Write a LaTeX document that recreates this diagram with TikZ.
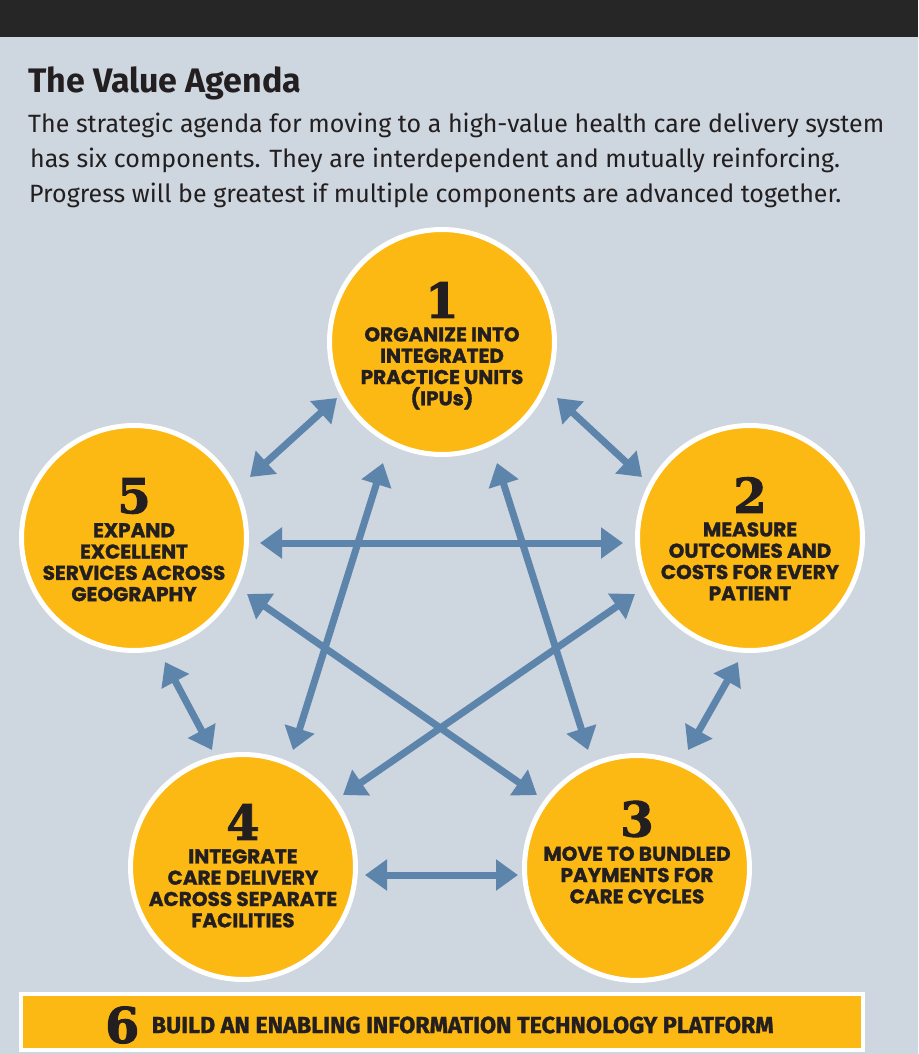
\documentclass[tikz,border=0pt]{standalone}
\usepackage{fontspec}
\usepackage{xcolor}
\setmainfont{Fira Sans}
\newfontfamily\bodyfont{Fira Sans}
\newfontfamily\barfont{Fira Sans}[BoldFeatures={FakeBold=1.2}]
\newfontfamily\capfont{Poppins}[BoldFeatures={FakeBold=1.4}]
\newfontfamily\digitfont{DejaVu Serif}[BoldFeatures={FakeBold=2}]
\usetikzlibrary{positioning, arrows.meta}

\definecolor{paneblue}{RGB}{206,214,223}
\definecolor{barblack}{RGB}{38,38,38}
\definecolor{agendayellow}{RGB}{252,184,19}
\definecolor{linkblue}{RGB}{93,133,172}
\definecolor{inkdark}{RGB}{35,31,32}

\begin{document}
\begin{tikzpicture}[
        x=1pt, y=-1pt,
        component/.style={circle, fill=agendayellow, draw=white, line width=5pt, minimum size=225pt, inner sep=0pt},
        num/.style={font=\digitfont\bfseries\fontsize{48}{48}\selectfont, text=inkdark, inner sep=0pt},
        caption/.style={font=\capfont\bfseries\fontsize{20}{21.3}\selectfont, text=inkdark, align=center, inner sep=0pt},
        heading/.style={font=\bodyfont\bfseries\fontsize{34}{34}\selectfont, text=inkdark, inner sep=0pt, anchor=base west},
        intro/.style={font=\bodyfont\fontsize{25}{35}\selectfont, text=inkdark, inner sep=0pt, anchor=base west},
        platform/.style={rectangle, fill=agendayellow, draw=white, line width=4pt, minimum width=842pt, minimum height=56pt, inner sep=0pt},
        link/.style={draw=linkblue, line width=7pt, {Triangle[length=22pt,width=30pt]}-{Triangle[length=22pt,width=30pt]}},
    ]

    \useasboundingbox (0,0) rectangle (918,1054);

    % === BACKGROUND ===
    \fill[paneblue] (0,0) rectangle (918,1054);
    \fill[barblack] (0,0) rectangle (918,37);

    % === HEADER ===
    \node[heading] (title) at (28,93) {The Value Agenda};
    \node[intro] (line1) at (28,132) {The strategic agenda for moving to a high-value health care delivery system};
    \node[intro] (line2) at (30,167) {has six components. They are interdependent and mutually reinforcing.};
    \node[intro] (line3) at (29,202) {Progress will be greatest if multiple components are advanced together.};

    % === COMPONENTS ===
    \node[component] (c1) at (442,342) {};  % top
    \node[component] (c2) at (750,538) {};  % right
    \node[component] (c3) at (637,868) {};  % bottom right
    \node[component] (c4) at (243,867) {};  % bottom left
    \node[component] (c5) at (134,538) {};  % left

    % Numbers
    \node[num] (n1) at ([yshift=42pt]c1.center) {1};
    \node[num] (n2) at ([yshift=43pt]c2.center) {2};
    \node[num] (n3) at ([yshift=49pt]c3.center) {3};
    \node[num] (n4) at ([yshift=45pt]c4.center) {4};
    \node[num] (n5) at ([yshift=42pt]c5.center) {5};

    % Captions
    \node[caption, below=9pt of n1] (t1) {ORGANIZE INTO\\INTEGRATED\\PRACTICE UNITS\\(IPUs)};
    \node[caption, below=9pt of n2] (t2) {MEASURE\\OUTCOMES AND\\COSTS FOR EVERY\\PATIENT};
    \node[caption, below=9pt of n3] (t3) {MOVE TO BUNDLED\\PAYMENTS FOR\\CARE CYCLES};
    \node[caption, below=9pt of n4] (t4) {INTEGRATE\\CARE DELIVERY\\ACROSS SEPARATE\\FACILITIES};
    \node[caption, below=9pt of n5] (t5) {EXPAND\\EXCELLENT\\SERVICES ACROSS\\GEOGRAPHY};

    % === LINKS (arrow ends) ===
    \coordinate (e15) at (337,398);  \coordinate (e51) at (250,477);
    \coordinate (e12) at (557,398);  \coordinate (e21) at (642,477);
    \coordinate (e52) at (260,543);  \coordinate (e25) at (623,543);
    \coordinate (e14) at (383,463);  \coordinate (e41) at (293,750);
    \coordinate (e13) at (497,463);  \coordinate (e31) at (588,750);
    \coordinate (e53) at (247,594);  \coordinate (e35) at (537,795);
    \coordinate (e24) at (635,594);  \coordinate (e42) at (343,795);
    \coordinate (e54) at (165,662);  \coordinate (e45) at (212,750);
    \coordinate (e23) at (738,662);  \coordinate (e32) at (688,750);
    \coordinate (e43) at (365,875);  \coordinate (e34) at (518,875);

    \foreach \a/\b in {e15/e51, e12/e21, e52/e25, e14/e41, e13/e31, e53/e35, e24/e42, e54/e45, e23/e32, e43/e34}
        \draw[link] (\a) -- (\b);

    % === PLATFORM BAR ===
    \node[platform] (bar6) at (442,1022) {};
    \node[num, anchor=west, font=\digitfont\bfseries\fontsize{49}{49}\selectfont] (n6) at (105,1025) {6};
    \node[font=\barfont\bfseries\fontsize{23.3}{24}\selectfont, text=inkdark, inner sep=0pt, right=12pt of n6] (t6) {BUILD AN ENABLING INFORMATION TECHNOLOGY PLATFORM};

\end{tikzpicture}
\end{document}
